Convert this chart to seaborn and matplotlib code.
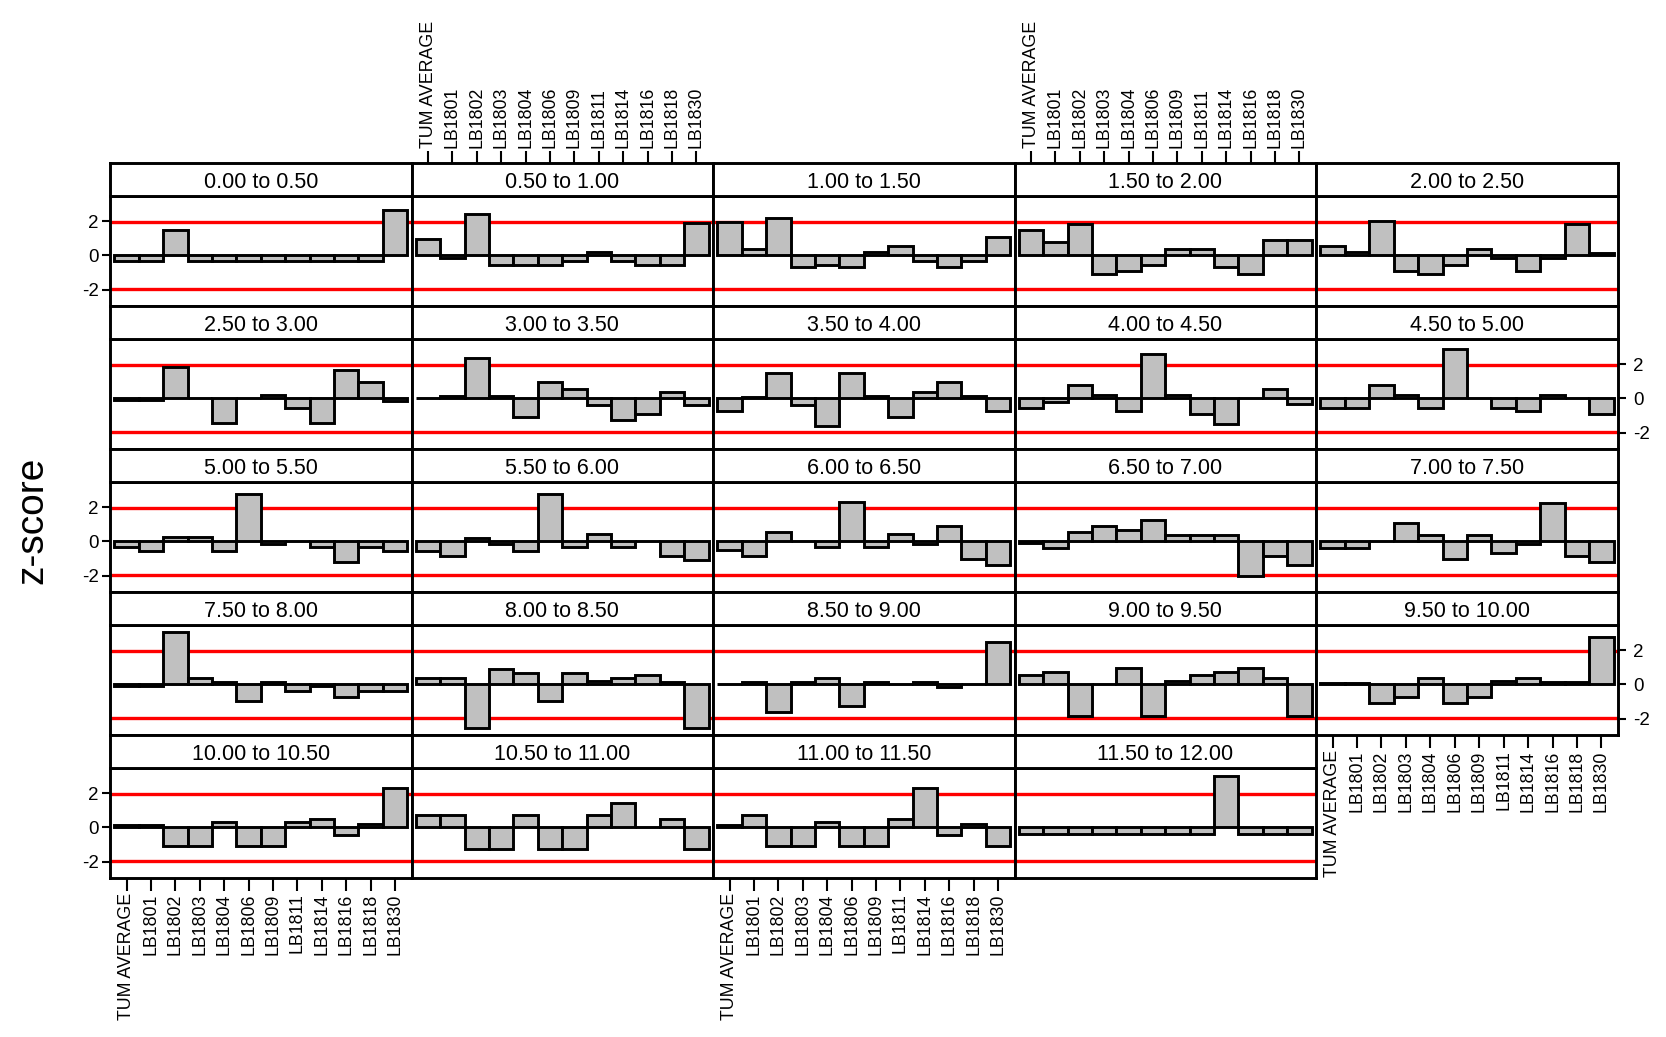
import matplotlib
matplotlib.use("Agg")
import matplotlib.pyplot as plt
import seaborn as sns
import pandas as pd
from matplotlib import font_manager

categories = ["TUM AVERAGE", "LB1801", "LB1802", "LB1803", "LB1804", "LB1806",
              "LB1809", "LB1811", "LB1814", "LB1816", "LB1818", "LB1830"]

intervals = ["0.00 to 0.50", "0.50 to 1.00", "1.00 to 1.50", "1.50 to 2.00", "2.00 to 2.50",
             "2.50 to 3.00", "3.00 to 3.50", "3.50 to 4.00", "4.00 to 4.50", "4.50 to 5.00",
             "5.00 to 5.50", "5.50 to 6.00", "6.00 to 6.50", "6.50 to 7.00", "7.00 to 7.50",
             "7.50 to 8.00", "8.00 to 8.50", "8.50 to 9.00", "9.00 to 9.50", "9.50 to 10.00",
             "10.00 to 10.50", "10.50 to 11.00", "11.00 to 11.50", "11.50 to 12.00"]

z_00_05 = [-0.35, -0.35, 1.47, -0.35, -0.35, -0.35, -0.35, -0.35, -0.35, -0.35, -0.35, 2.68]
z_05_10 = [0.95, -0.15, 2.4, -0.55, -0.55, -0.55, -0.35, 0.2, -0.35, -0.55, -0.55, 1.87]
z_10_15 = [1.98, 0.35, 2.18, -0.7, -0.55, -0.7, 0.2, 0.55, -0.35, -0.7, -0.35, 1.1]
z_15_20 = [1.47, 0.8, 1.85, -1.08, -0.9, -0.55, 0.4, 0.4, -0.7, -1.08, 0.93, 0.93]
z_20_25 = [0.55, 0.2, 2.0, -0.9, -1.08, -0.55, 0.4, -0.15, -0.9, -0.15, 1.85, 0.15]
z_25_30 = [-0.1, -0.1, 1.85, 0.0, -1.45, 0.0, 0.2, -0.55, -1.45, 1.65, 0.95, -0.15]
z_30_35 = [0.0, 0.15, 2.37, 0.15, -1.08, 0.95, 0.58, -0.37, -1.25, -0.9, 0.38, -0.37]
z_35_40 = [-0.73, 0.1, 1.47, -0.37, -1.6, 1.47, 0.15, -1.08, 0.38, 0.95, 0.15, -0.73]
z_40_45 = [-0.55, -0.2, 0.77, 0.2, -0.75, 2.57, 0.2, -0.92, -1.47, 0.0, 0.57, -0.35]
z_45_50 = [-0.55, -0.55, 0.77, 0.2, -0.55, 2.9, 0.0, -0.55, -0.73, 0.2, 0.0, -0.92]
z_50_55 = [-0.3, -0.55, 0.24, 0.24, -0.55, 2.78, -0.15, 0.0, -0.3, -1.2, -0.3, -0.55]
z_55_60 = [-0.55, -0.85, 0.22, -0.15, -0.55, 2.78, -0.3, 0.41, -0.3, 0.0, -0.85, -1.1]
z_60_65 = [-0.5, -0.85, 0.57, 0.0, -0.3, 2.3, -0.3, 0.41, -0.15, 0.93, -1.02, -1.4]
z_65_70 = [-0.1, -0.37, 0.56, 0.91, 0.69, 1.26, 0.35, 0.35, 0.35, -2.04, -0.85, -1.37]
z_70_75 = [-0.37, -0.37, 0.0, 1.06, 0.35, -1.04, 0.35, -0.67, -0.15, 2.26, -0.82, -1.2]
z_75_80 = [-0.1, -0.1, 3.04, 0.37, 0.17, -0.94, 0.17, -0.4, -0.1, -0.73, -0.37, -0.37]
z_80_85 = [0.37, 0.37, -2.56, 0.9, 0.67, -0.94, 0.67, 0.21, 0.37, 0.56, 0.15, -2.56]
z_85_90 = [0.0, 0.15, -1.62, 0.15, 0.37, -1.25, 0.15, 0.0, 0.15, -0.15, 0.0, 2.5]
z_90_95 = [0.55, 0.75, -1.82, 0.0, 0.94, -1.82, 0.2, 0.55, 0.75, 0.94, 0.4, -1.82]
z_95_100 = [0.1, 0.1, -1.08, -0.71, 0.4, -1.08, -0.71, 0.2, 0.4, 0.15, 0.15, 2.75]
z_100_105 = [0.15, 0.15, -1.09, -1.09, 0.33, -1.09, -1.09, 0.33, 0.52, -0.42, 0.19, 2.31]
z_105_110 = [0.73, 0.73, -1.28, -1.28, 0.73, -1.28, -1.28, 0.73, 1.43, 0.0, 0.52, -1.28]
z_110_115 = [0.15, 0.73, -1.09, -1.09, 0.33, -1.09, -1.09, 0.52, 2.31, -0.42, 0.19, -1.09]
z_115_120 = [-0.38, -0.38, -0.38, -0.38, -0.38, -0.38, -0.38, -0.38, 2.98, -0.38, -0.38, -0.38]

panel_values = [z_00_05, z_05_10, z_10_15, z_15_20, z_20_25,
                z_25_30, z_30_35, z_35_40, z_40_45, z_45_50,
                z_50_55, z_55_60, z_60_65, z_65_70, z_70_75,
                z_75_80, z_80_85, z_85_90, z_90_95, z_95_100,
                z_100_105, z_105_110, z_110_115, z_115_120]

threshold = 1.96

sns.set_theme(style="ticks", rc={"axes.edgecolor": "black", "xtick.color": "black",
                                 "ytick.color": "black", "text.color": "black",
                                 "axes.unicode_minus": False})
avail = {f.name for f in font_manager.fontManager.ttflist}
base_font = "Liberation Sans" if "Liberation Sans" in avail else "DejaVu Sans"
plt.rcParams["font.family"] = [base_font, "DejaVu Sans"]

W, H = 1666, 1037
fig = plt.figure(figsize=(W / 100, H / 100), dpi=100)

col_x = [110, 411.5, 713, 1014.5, 1316, 1618]
top0, row_h, strip_h = 163, 143, 33
LW = 2.1
TICK_FS = 12.8

for i, (label, vals) in enumerate(zip(intervals, panel_values)):
    r, c = divmod(i, 5)
    x0, x1 = col_x[c], col_x[c + 1]
    top = top0 + r * row_h
    ax = fig.add_axes([x0 / W, 1 - (top + row_h) / H, (x1 - x0) / W, (row_h - strip_h) / H])
    sax = fig.add_axes([x0 / W, 1 - (top + strip_h) / H, (x1 - x0) / W, strip_h / H])

    df = pd.DataFrame({"sample": categories, "z": vals})
    ax.axhline(threshold, color="red", lw=2.4, zorder=0.5)
    ax.axhline(-threshold, color="red", lw=2.4, zorder=0.5)
    sns.barplot(data=df, x="sample", y="z", order=categories, width=1.0,
                color="#c0c0c0", saturation=1, edgecolor="black", linewidth=LW,
                errorbar=None, ax=ax)
    ax.set_xlim(-0.68, 11.68)
    ax.set_ylim(-2.95, 3.47)
    ax.set_xlabel("")
    ax.set_ylabel("")
    for sp in ax.spines.values():
        sp.set_visible(True)
        sp.set_linewidth(LW)
        sp.set_zorder(5)

    ax.set_xticks(range(len(categories)))
    ax.set_yticks([-2, 0, 2])
    ax.set_yticklabels(["-2", "0", "2"])
    ax.tick_params(axis="both", which="both", bottom=False, top=False, left=False, right=False,
                   labelbottom=False, labeltop=False, labelleft=False, labelright=False)

    if (c in (0, 2) and r == 4) or (c == 4 and r == 3):
        ax.set_xticklabels(categories, rotation=90)
        ax.tick_params(axis="x", bottom=True, labelbottom=True, length=9, width=1.5,
                       labelsize=TICK_FS, pad=2)
    if c == 0 and r in (0, 2, 4):
        ax.tick_params(axis="y", left=True, labelleft=True, length=6, width=1.5,
                       labelsize=13.5, pad=2)
    if c == 4 and r in (1, 3):
        ax.tick_params(axis="y", right=True, labelright=True, length=6, width=1.5,
                       labelsize=13.5, pad=5)

    # strip
    sax.set_xlim(-0.68, 11.68)
    sax.set_ylim(0, 1)
    sax.set_yticks([])
    sax.set_facecolor("white")
    for sp in sax.spines.values():
        sp.set_visible(True)
        sp.set_linewidth(LW)
    sax.text(0.5, 0.40, label, transform=sax.transAxes, ha="center", va="center",
             fontsize=15.5)
    if c in (1, 3) and r == 0:
        sax.set_xticks(range(len(categories)))
        sax.set_xticklabels(categories, rotation=90)
        sax.tick_params(axis="x", bottom=False, labelbottom=False, top=True, labeltop=True,
                        length=9, width=1.5, labelsize=TICK_FS, pad=2)
    else:
        sax.set_xticks([])

fig.text(32 / W, 1 - 520 / H, "z-score", rotation=90, fontsize=28, ha="center", va="center")

fig.savefig("out.png", dpi=100, facecolor="white")
